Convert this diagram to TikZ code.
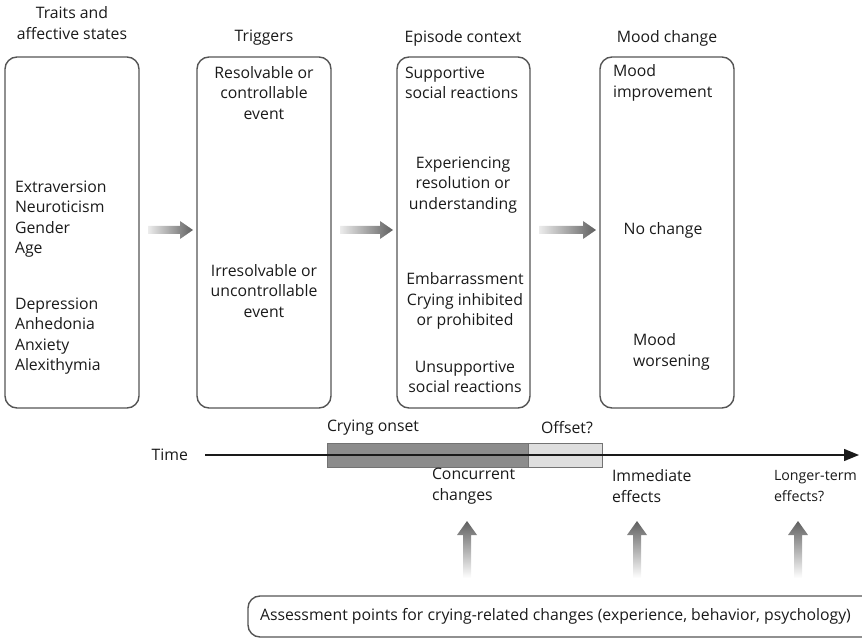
\documentclass[tikz,border=0pt]{standalone}
\usepackage{fontspec}
\setmainfont{Open Sans}
\usetikzlibrary{calc,arrows.meta}
\definecolor{txt}{HTML}{1A1A1A}
\definecolor{boxline}{HTML}{555555}
\tikzset{
  every node/.style={inner sep=0pt,outer sep=0pt,text=txt,font=\fontsize{15.8}{20.5}\selectfont},
  panel/.style={draw=boxline,line width=1.4pt,rounded corners=12pt},
  lbl/.style={align=center},
  lbll/.style={align=left,anchor=west},
}
\begin{document}
\begin{tikzpicture}[x=1pt,y=-1pt]
\useasboundingbox (0,0) rectangle (862,639);
% panels
\draw[panel] (5,57) rectangle (139,408);
\draw[panel] (197,57) rectangle (331,408);
\draw[panel] (397,57) rectangle (530,408);
\draw[panel] (600,57) rectangle (734,408);
\coordinate (b1e) at (139,230); \coordinate (b2w) at (197,230);
\coordinate (b2e) at (331,230); \coordinate (b3w) at (397,230);
\coordinate (b3e) at (530,230); \coordinate (b4w) at (600,230);
% titles
\node[lbl] (t1) at (72,23) {Traits and\\affective states};
\node[lbl] (t2) at (264,38) {Triggers};
\node[lbl] (t3) at (463,38) {Episode context};
\node[lbl] (t4) at (667,38) {Mood change};
% box 1
\node[lbll] (traits) at (15,219) {Extraversion\\Neuroticism\\Gender\\Age};
\node[lbll] (states) at (15,336) {Depression\\Anhedonia\\Anxiety\\Alexithymia};
% box 2
\node[lbl] (res) at (264,93) {Resolvable or\\controllable\\event};
\node[lbl] (irr) at (264,291) {Irresolvable or\\uncontrollable\\event};
% box 3
\node[lbll] (sup) at (405,83) {Supportive\\social reactions};
\node[lbl] (exp) at (463,185) {Experiencing\\resolution or\\understanding};
\node[lbl] (emb) at (465,301) {Embarrassment\\Crying inhibited\\or prohibited};
\node[lbl] (uns) at (465,377) {Unsupportive\\social reactions};
% box 4
\node[lbll] (imp) at (613,83) {Mood\\improvement};
\node[lbl] (noc) at (663,230) {No change};
\node[lbll] (wor) at (633,352) {Mood\\worsening};
% gradient arrows between panels
\foreach \a/\b in {b1e/b2w,b2e/b3w,b3e/b4w}{
  \shade[left color=gray!15, right color=gray!75!black]
    ($(\a)+(9,-4)$) -- ($(\b)+(-17,-4)$) -- ($(\b)+(-17,-9)$) -- ($(\b)+(-4,0)$)
    -- ($(\b)+(-17,9)$) -- ($(\b)+(-17,4)$) -- ($(\a)+(9,4)$) -- cycle;
}
% timeline bars
\fill[black!45] (327,443) rectangle (528,467);
\fill[black!13] (528,443) rectangle (602,467);
\draw[black!55,line width=0.8pt] (327,443) rectangle (602,467);
\draw[black!55,line width=0.8pt] (528,443) -- (528,467);
\coordinate (ts) at (205,455);
\coordinate (te) at (859,455);
\draw[line width=1.4pt,draw=txt,-{Triangle[length=15pt,width=12pt]}] (ts) -- (te);
\node[anchor=east] (time) at (188,455) {Time};
\node[lbll] (onset) at (327,428) {Crying onset};
\node[lbll] (off) at (541,428) {Offset?};
\node[lbll] (conc) at (432,486) {Concurrent\\changes};
\node[lbll] (imm) at (612,486) {Immediate\\effects};
\node[lbll,font=\fontsize{14.2}{20.5}\selectfont] (lon) at (774,486) {Longer-term\\effects?};
% bottom box
\draw[panel] (248,596) rectangle (880,637);
\node[anchor=west] (assess) at (260,616) {Assessment points for crying-related changes (experience, behavior, psychology)};
% vertical arrows
\foreach \x in {467,637,798}{
  \shade[top color=gray!75!black, bottom color=white]
    (\x-4,578) -- (\x-4,535) -- (\x-10,535) -- (\x,521) -- (\x+10,535) -- (\x+4,535) -- (\x+4,578) -- cycle;
}
\end{tikzpicture}
\end{document}
